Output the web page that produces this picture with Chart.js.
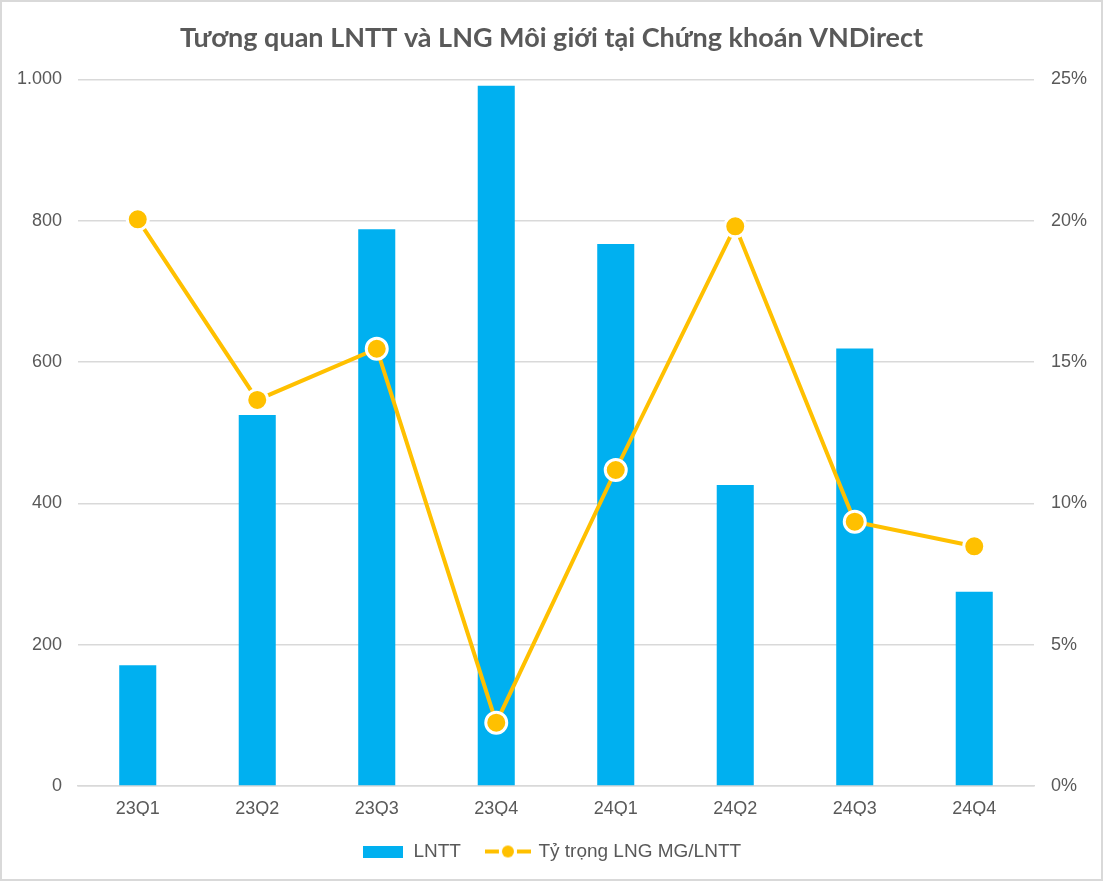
<!DOCTYPE html>
<html>
<head>
<meta charset="utf-8">
<script src="https://cdn.jsdelivr.net/npm/chart.js@4"></script>
<style>
  html, body { margin: 0; padding: 0; background: #ffffff; }
  #wrap { position: relative; width: 1103px; height: 881px; }
  #c { display: block; }
  #frame { position: absolute; left: 0; top: 0; width: 1103px; height: 881px; box-sizing: border-box; border: 2px solid #d9d9d9; pointer-events: none; }
</style>
</head>
<body>
<div id="wrap">
  <canvas id="c" width="1103" height="881"></canvas>
  <div id="frame"></div>
</div>
<script>
const titleText = 'Tương quan LNTT và LNG Môi giới tại Chứng khoán VNDirect';
const categories = ['23Q1', '23Q2', '23Q3', '23Q4', '24Q1', '24Q2', '24Q3', '24Q4'];
const lnttLabel = 'LNTT';
const lnttValues = [171, 525, 788, 991, 767, 426, 619, 275];
const ratioLabel = 'Tỷ trọng LNG MG/LNTT';
const ratioValues = [20.05, 13.66, 15.47, 2.24, 11.18, 19.8, 9.35, 8.48];
const leftTicks = [0, 200, 400, 600, 800, 1000];
const rightTicks = [0, 5, 10, 15, 20, 25];

const BLUE = '#00B0F0';
const GOLD = '#FFC000';
const TEXT = '#595959';
const GRID = '#d9d9d9';
const FONT = "'Liberation Sans', Arial, sans-serif";

function fmtThousands(v) {
  return String(v).replace(/\B(?=(\d{3})+(?!\d))/g, '.');
}

// legend symbols
const barSym = document.createElement('canvas');
barSym.width = 40; barSym.height = 12;
(function () {
  const g = barSym.getContext('2d');
  g.fillStyle = BLUE; g.fillRect(0, 0, 40, 12);
})();
const lineSym = document.createElement('canvas');
lineSym.width = 46; lineSym.height = 14;
(function () {
  const g = lineSym.getContext('2d');
  g.strokeStyle = GOLD; g.lineWidth = 4;
  g.beginPath(); g.moveTo(0, 7); g.lineTo(14, 7); g.stroke();
  g.beginPath(); g.moveTo(32, 7); g.lineTo(46, 7); g.stroke();
  g.fillStyle = GOLD;
  g.beginPath(); g.arc(23, 7, 6, 0, Math.PI * 2); g.fill();
})();

const PLOT_LEFT = 78, PLOT_RIGHT = 1034;

new Chart(document.getElementById('c'), {
  data: {
    labels: categories,
    datasets: [
      {
        type: 'line',
        label: ratioLabel,
        data: ratioValues,
        yAxisID: 'y1',
        borderColor: GOLD,
        backgroundColor: GOLD,
        borderWidth: 4,
        pointRadius: 10.5,
        pointBorderWidth: 3,
        pointBorderColor: '#ffffff',
        pointBackgroundColor: GOLD,
        tension: 0,
        order: 0,
        legendSym: lineSym
      },
      {
        type: 'bar',
        label: lnttLabel,
        data: lnttValues,
        yAxisID: 'y',
        backgroundColor: BLUE,
        borderWidth: 0,
        barPercentage: 0.31,
        categoryPercentage: 1,
        order: 1,
        legendSym: barSym
      }
    ]
  },
  options: {
    responsive: false,
    animation: false,
    devicePixelRatio: 1,
    layout: { padding: { left: 0, right: 0, top: 0, bottom: 10 } },
    plugins: {
      title: {
        display: true,
        text: titleText,
        color: TEXT,
        font: { family: "Lato, 'Open Sans', sans-serif", size: 27, weight: 'bold' },
        padding: { top: 22, bottom: 25 }
      },
      legend: {
        position: 'bottom',
        reverse: true,
        labels: {
          usePointStyle: true,
          pointStyleWidth: 42,
          color: TEXT,
          font: { family: FONT, size: 19 },
          padding: 26,
          generateLabels(chart) {
            return chart.data.datasets.map((ds, i) => ({
              text: ds.label,
              pointStyle: ds.legendSym,
              fillStyle: 'transparent',
              strokeStyle: 'transparent',
              lineWidth: 0,
              fontColor: TEXT,
              hidden: false,
              datasetIndex: i
            }));
          }
        }
      },
      tooltip: { enabled: false }
    },
    scales: {
      x: {
        grid: { display: false, drawTicks: false },
        border: { display: true, color: GRID, width: 1.5 },
        ticks: { color: TEXT, font: { family: FONT, size: 18 }, padding: 12 },
        afterFit(s) { s.height = 30; }
      },
      y: {
        position: 'left',
        min: 0, max: 1000,
        afterBuildTicks(s) { s.ticks = leftTicks.map(v => ({ value: v })); },
        grid: { color: GRID, lineWidth: 1.5, drawTicks: false },
        border: { display: false },
        ticks: { color: TEXT, font: { family: FONT, size: 18 }, padding: 16, callback: v => fmtThousands(v) },
        afterFit(s) { s.width = PLOT_LEFT; }
      },
      y1: {
        position: 'right',
        min: 0, max: 25,
        afterBuildTicks(s) { s.ticks = rightTicks.map(v => ({ value: v })); },
        grid: { display: false, drawTicks: false },
        border: { display: false },
        ticks: { color: TEXT, font: { family: FONT, size: 18 }, padding: 17, callback: v => v + '%' },
        afterFit(s) { s.width = 1103 - PLOT_RIGHT; }
      }
    }
  }
});
</script>
</body>
</html>
